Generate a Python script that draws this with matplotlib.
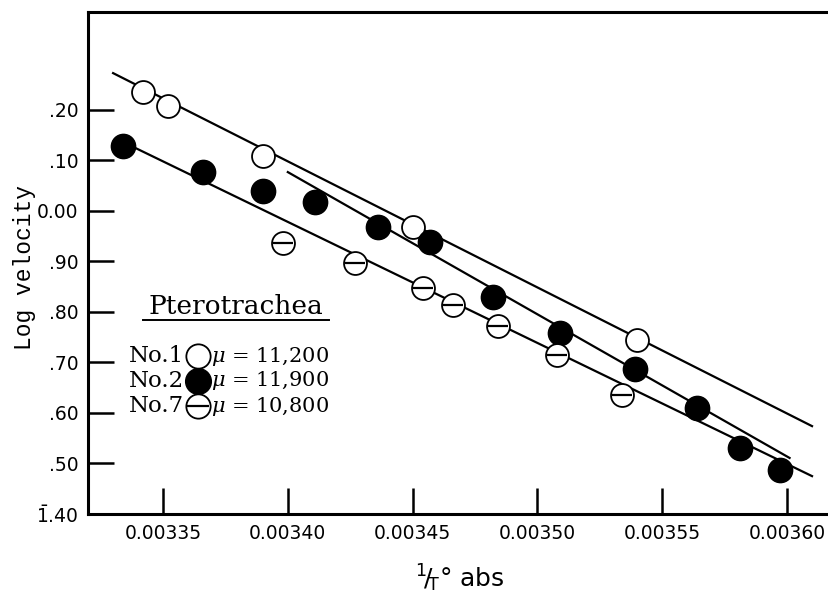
import matplotlib.pyplot as plt

# Pterotrachea: log velocity against 1/T (abs)
# No.1, open circles, mu = 11,200
no1_x = [0.003342, 0.003352, 0.003390, 0.003450, 0.003540]
no1_y = [0.236, 0.208, 0.109, -0.032, -0.255]

# No.2, filled circles, mu = 11,900
no2_x = [0.003334, 0.003366, 0.003390, 0.003411, 0.003436, 0.003457,
         0.003482, 0.003509, 0.003539, 0.003564, 0.003581, 0.003597]
no2_y = [0.129, 0.077, 0.040, 0.018, -0.032, -0.061,
         -0.170, -0.242, -0.313, -0.390, -0.469, -0.513]

# No.7, barred circles, mu = 10,800
no7_x = [0.003398, 0.003427, 0.003454, 0.003466, 0.003484, 0.003508, 0.003534]
no7_y = [-0.063, -0.103, -0.152, -0.186, -0.228, -0.285, -0.364]

# fitted lines, end points
line1_x = [0.003330, 0.003610]
line1_y = [0.273, -0.426]
line7_x = [0.003338, 0.003610]
line7_y = [0.127, -0.525]
line2_x = [0.003400, 0.003601]
line2_y = [0.077, -0.489]

x_ticks = [0.00335, 0.00340, 0.00345, 0.00350, 0.00355, 0.00360]
x_labels = ['0.00335', '0.00340', '0.00345', '0.00350', '0.00355', '0.00360']
y_ticks = [0.2, 0.1, 0.0, -0.1, -0.2, -0.3, -0.4, -0.5, -0.6]
y_labels = ['.20', '.10', '0.00', '.90', '.80', '.70', '.60', '.50', r'$\bar{1}$.40']

legend_rows = [('No.1', 'open', r'$\mu$ = 11,200'),
               ('No.2', 'filled', r'$\mu$ = 11,900'),
               ('No.7', 'barred', r'$\mu$ = 10,800')]

fig = plt.figure(figsize=(8.29, 5.97), dpi=100)
ax = fig.add_axes([88 / 829, 83 / 597, 741 / 829, 502 / 597])

lw = 1.6
for lx, ly in [(line1_x, line1_y), (line7_x, line7_y), (line2_x, line2_y)]:
    ax.plot(lx, ly, color='black', lw=lw, zorder=2)


def draw_marker(x, y, kind, size=17.5, **kw):
    if kind == 'filled':
        ax.plot(x, y, 'o', ms=size, mfc='black', mec='black', zorder=3, **kw)
    else:
        ax.plot(x, y, 'o', ms=size - 1, mfc='white', mec='black', mew=1.3,
                zorder=3, **kw)
        if kind == 'barred':
            ax.plot(x, y, '_', ms=size - 3, mec='black', mew=1.6, zorder=4, **kw)


draw_marker(no1_x, no1_y, 'open')
draw_marker(no2_x, no2_y, 'filled')
draw_marker(no7_x, no7_y, 'barred')

ax.set_xlim(0.00331995, 0.0036168)
ax.set_ylim(-0.6, 0.394)

ax.set_xticks(x_ticks)
ax.set_xticklabels(x_labels)
ax.set_yticks(y_ticks)
ax.set_yticklabels(y_labels)
ax.tick_params(direction='in', length=19, width=1.8, labelsize=13.5, pad=7)

for side in ['left', 'top', 'bottom']:
    ax.spines[side].set_linewidth(2.2)
ax.spines['right'].set_visible(False)

fig.text(25 / 829, 1 - 268 / 597, 'Log velocity', rotation=90,
         ha='center', va='center', family='Liberation Mono', fontsize=16.5)
fig.text(460 / 829, 1 - 578 / 597, r'$^{1}\!/\!_{\mathrm{T}}$° abs',
         ha='center', va='center', fontsize=18)

# legend block
def fx(px):
    return (px - 88) / 741


def fy(py):
    return (514 - py) / 502


ax.text(fx(236), fy(306), 'Pterotrachea', transform=ax.transAxes,
        ha='center', va='center', family='DejaVu Serif', fontsize=19)
ax.plot([fx(143), fx(329)], [fy(320), fy(320)], color='black', lw=1.4,
        transform=ax.transAxes)

for i, (name, kind, mu) in enumerate(legend_rows):
    py = [356, 381, 406][i]
    ax.text(fx(184), fy(py), name, transform=ax.transAxes, ha='right',
            va='center', family='DejaVu Serif', fontsize=16.5)
    draw_marker([fx(198)], [fy(py)], kind, size=18.5, transform=ax.transAxes)
    ax.text(fx(211), fy(py), mu, transform=ax.transAxes, ha='left',
            va='center', family='DejaVu Serif', fontsize=15,
            math_fontfamily='dejavuserif')

fig.savefig('out.png', dpi=100)
